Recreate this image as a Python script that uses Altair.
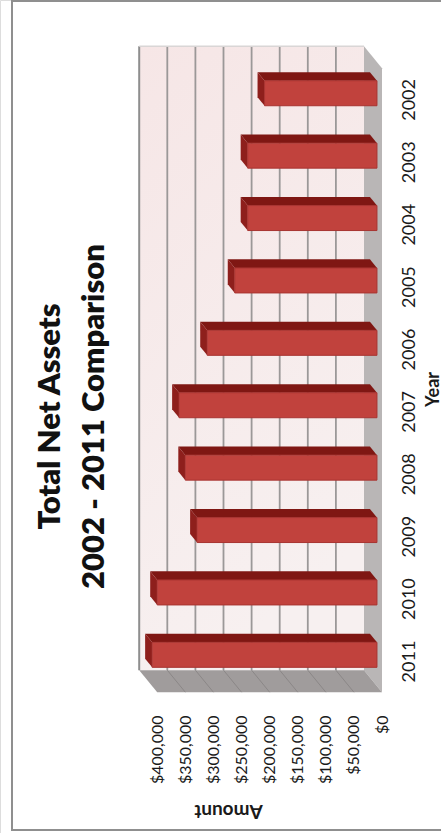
import altair as alt
import pandas as pd

# Net assets per fiscal year
YEARS = [2002, 2003, 2004, 2005, 2006, 2007, 2008, 2009, 2010, 2011]
NET_ASSETS = [200000, 230000, 230000, 253000, 302000, 352000, 341000, 320000, 391000, 400000]
AMOUNT_TICKS = [0, 50000, 100000, 150000, 200000, 250000, 300000, 350000, 400000]
TITLE_LINES = ["Total Net Assets", "2002 - 2011 Comparison"]

WIDTH, HEIGHT = 441, 833
FONT = "Lato"

# Screen scales: amounts grow leftwards, years grow downwards
PX_PER_DOLLAR = 28.1 / 50000
PX_PER_YEAR = 62.4
ZERO_PX = 382
YEAR0_PX = 99.4

x_scale = alt.Scale(domain=[ZERO_PX / PX_PER_DOLLAR, (ZERO_PX - WIDTH) / PX_PER_DOLLAR],
                    range=[0, WIDTH], nice=False, zero=False, clamp=False)
y_scale = alt.Scale(domain=[2002 - YEAR0_PX / PX_PER_YEAR, 2002 + (HEIGHT - YEAR0_PX) / PX_PER_YEAR],
                    range=[0, HEIGHT], nice=False, zero=False)

# Oblique projection: depth 0 is the front edge of the floor, depth 1 the back wall
DEPTH_X = 18 / PX_PER_DOLLAR
DEPTH_Y = 22 / PX_PER_YEAR
BAR_FRONT, BAR_BACK = 0.28, 0.67
BAR_HALF = 12.5 / PX_PER_YEAR
YEAR_MIN, YEAR_MAX = 2001.5, 2011.5
AMOUNT_MAX = 400000


def px(amount, depth):
    return amount + depth * DEPTH_X


def py(year, depth):
    return year - depth * DEPTH_Y


# Every layer shares one axis definition, so the scales merge into a single pair of axes
x_axis = alt.Axis(
    orient="bottom", offset=-118, values=AMOUNT_TICKS, format="$,.0f", grid=False, domain=False, ticks=False,
    labelAngle=270, labelAlign="right", labelBaseline="middle", labelPadding=0, labelFont=FONT, labelFontSize=16,
    labelColor="#1a1a1a", labelOverlap=False, labelFlush=False, zindex=1,
    title="Amount", titleAngle=180, titleFont=FONT, titleFontSize=19, titleFontWeight="bold", titleColor="#1a1a1a",
    titleX=228, titleY=95, titleAlign="center", titleBaseline="middle",
)
y_axis = alt.Axis(
    orient="right", offset=-32, values=YEARS, format="d", grid=False, domain=False, ticks=False,
    labelAngle=270, labelAlign="center", labelBaseline="middle", labelPadding=0, labelFont=FONT, labelFontSize=18,
    labelColor="#1a1a1a", labelOverlap=False, labelFlush=False, zindex=1,
    title="Year", titleAngle=270, titleFont=FONT, titleFontSize=18, titleFontWeight="bold", titleColor="#1a1a1a",
    titleX=24, titleY=389, titleAlign="center", titleBaseline="middle",
)

X = lambda f="x": alt.X(f"{f}:Q", scale=x_scale, axis=x_axis)
Y = lambda f="y": alt.Y(f"{f}:Q", scale=y_scale, axis=y_axis)
X2 = alt.X2("x2:Q")
Y2 = alt.Y2("y2:Q")

# Outer chart frame, running off the right edge of the page
frame = alt.Chart(pd.DataFrame({"a": [0]})).mark_rect(
    fill="white", stroke="#8f8f8f", strokeWidth=2
).encode(x=alt.value(12), x2=alt.value(470), y=alt.value(1), y2=alt.value(830))

# Back wall
wall = alt.Chart(pd.DataFrame([{
    "x": px(AMOUNT_MAX, 1), "x2": px(0, 1), "y": py(YEAR_MIN, 1), "y2": py(YEAR_MAX, 1),
}])).mark_rect(
    color=alt.LinearGradient(
        gradient="linear", x1=0, y1=0, x2=0.3, y2=1,
        stops=[alt.GradientStop(color="#f6e6e6", offset=0), alt.GradientStop(color="#f7f0f0", offset=1)],
    )
).encode(x=X(), x2=X2, y=Y(), y2=Y2)

wall_edge = alt.Chart(pd.DataFrame([{
    "x": px(AMOUNT_MAX, 1), "y": py(YEAR_MIN, 1), "y2": py(YEAR_MAX, 1),
}])).mark_rule(color="#8e8e8e", strokeWidth=2).encode(x=X(), y=Y(), y2=Y2)

wall_top = alt.Chart(pd.DataFrame([{
    "x": px(AMOUNT_MAX, 1), "x2": px(0, 1), "y": py(YEAR_MIN, 1),
}])).mark_rule(color="#d9d6d6", strokeWidth=1.5).encode(x=X(), x2=X2, y=Y())

# Gridlines on the wall
grid = alt.Chart(pd.DataFrame([
    {"x": px(t, 1), "y": py(YEAR_MIN, 1), "y2": py(YEAR_MAX, 1)} for t in AMOUNT_TICKS[1:-1]
])).mark_rule(color="#9b9898", strokeWidth=1.8).encode(x=X(), y=Y(), y2=Y2)

# Side wall at zero, a sheared band
side_rows = [
    {"x": px(0, 1), "y": py(YEAR_MIN, 1), "y2": py(YEAR_MAX, 1)},
    {"x": px(0, 0), "y": py(YEAR_MIN, 0), "y2": py(YEAR_MAX, 0)},
]
side = alt.Chart(pd.DataFrame(side_rows)).mark_area(orient="vertical", color="#b9b6b6").encode(
    x=X(), y=Y(), y2=Y2
)

# Floor along the last year, a sheared band
floor_rows = [
    {"y": py(YEAR_MAX, 1), "x": px(AMOUNT_MAX, 1), "x2": px(0, 1)},
    {"y": py(YEAR_MAX, 0), "x": px(AMOUNT_MAX, 0), "x2": px(0, 0)},
]
floor = alt.Chart(pd.DataFrame(floor_rows)).mark_area(orient="horizontal", color="#a09c9c").encode(
    y=Y(), x=X(), x2=X2
)

floor_grid_rows = []
for t in AMOUNT_TICKS[1:-1]:
    for depth in (1, 0):
        floor_grid_rows.append({"tick": t, "depth": depth, "x": px(t, depth), "y": py(YEAR_MAX, depth)})
floor_grid = alt.Chart(pd.DataFrame(floor_grid_rows)).mark_line(color="#8b8787", strokeWidth=1).encode(
    x=X(), y=Y(), detail="tick:N", order="depth:Q"
)

# Bars: top face, end face and front face, each derived from the amount
top_rows, end_rows, front_rows = [], [], []
for year, value in zip(YEARS, NET_ASSETS):
    top_rows += [
        {"year": year, "y": py(year - BAR_HALF, BAR_BACK), "x": px(value, BAR_BACK), "x2": px(0, BAR_BACK)},
        {"year": year, "y": py(year - BAR_HALF, BAR_FRONT), "x": px(value, BAR_FRONT), "x2": px(0, BAR_FRONT)},
    ]
    end_rows += [
        {"year": year, "x": px(value, BAR_BACK), "y": py(year - BAR_HALF, BAR_BACK), "y2": py(year + BAR_HALF, BAR_BACK)},
        {"year": year, "x": px(value, BAR_FRONT), "y": py(year - BAR_HALF, BAR_FRONT), "y2": py(year + BAR_HALF, BAR_FRONT)},
    ]
    front_rows.append({
        "year": year, "x": px(value, BAR_FRONT), "x2": px(0, BAR_FRONT),
        "y": py(year - BAR_HALF, BAR_FRONT), "y2": py(year + BAR_HALF, BAR_FRONT),
    })

bar_top = alt.Chart(pd.DataFrame(top_rows)).mark_area(orient="horizontal", color="#7f1713").encode(
    y=Y(), x=X(), x2=X2, detail="year:N"
)
bar_end = alt.Chart(pd.DataFrame(end_rows)).mark_area(orient="vertical", color="#8e1f1c").encode(
    x=X(), y=Y(), y2=Y2, detail="year:N"
)
bar_front = alt.Chart(pd.DataFrame(front_rows)).mark_rect(
    color="#c1423d", stroke="#a83431", strokeWidth=1
).encode(x=X(), x2=X2, y=Y(), y2=Y2)

chart = alt.layer(
    frame, wall, grid, wall_edge, wall_top, side, floor, floor_grid, bar_top, bar_end, bar_front
).properties(
    width=WIDTH,
    height=HEIGHT,
    padding=0,
    autosize=alt.AutoSizeParams(type="none"),
    title=alt.TitleParams(
        text=TITLE_LINES, orient="left", anchor="middle", angle=270, offset=-126, font=FONT, fontSize=31,
        fontWeight=800, color="#111111", lineHeight=44, baseline="middle",
    ),
).configure_view(stroke=None).configure(background="white")

chart.save("out.html", embed_options={"renderer": "svg", "actions": False})
